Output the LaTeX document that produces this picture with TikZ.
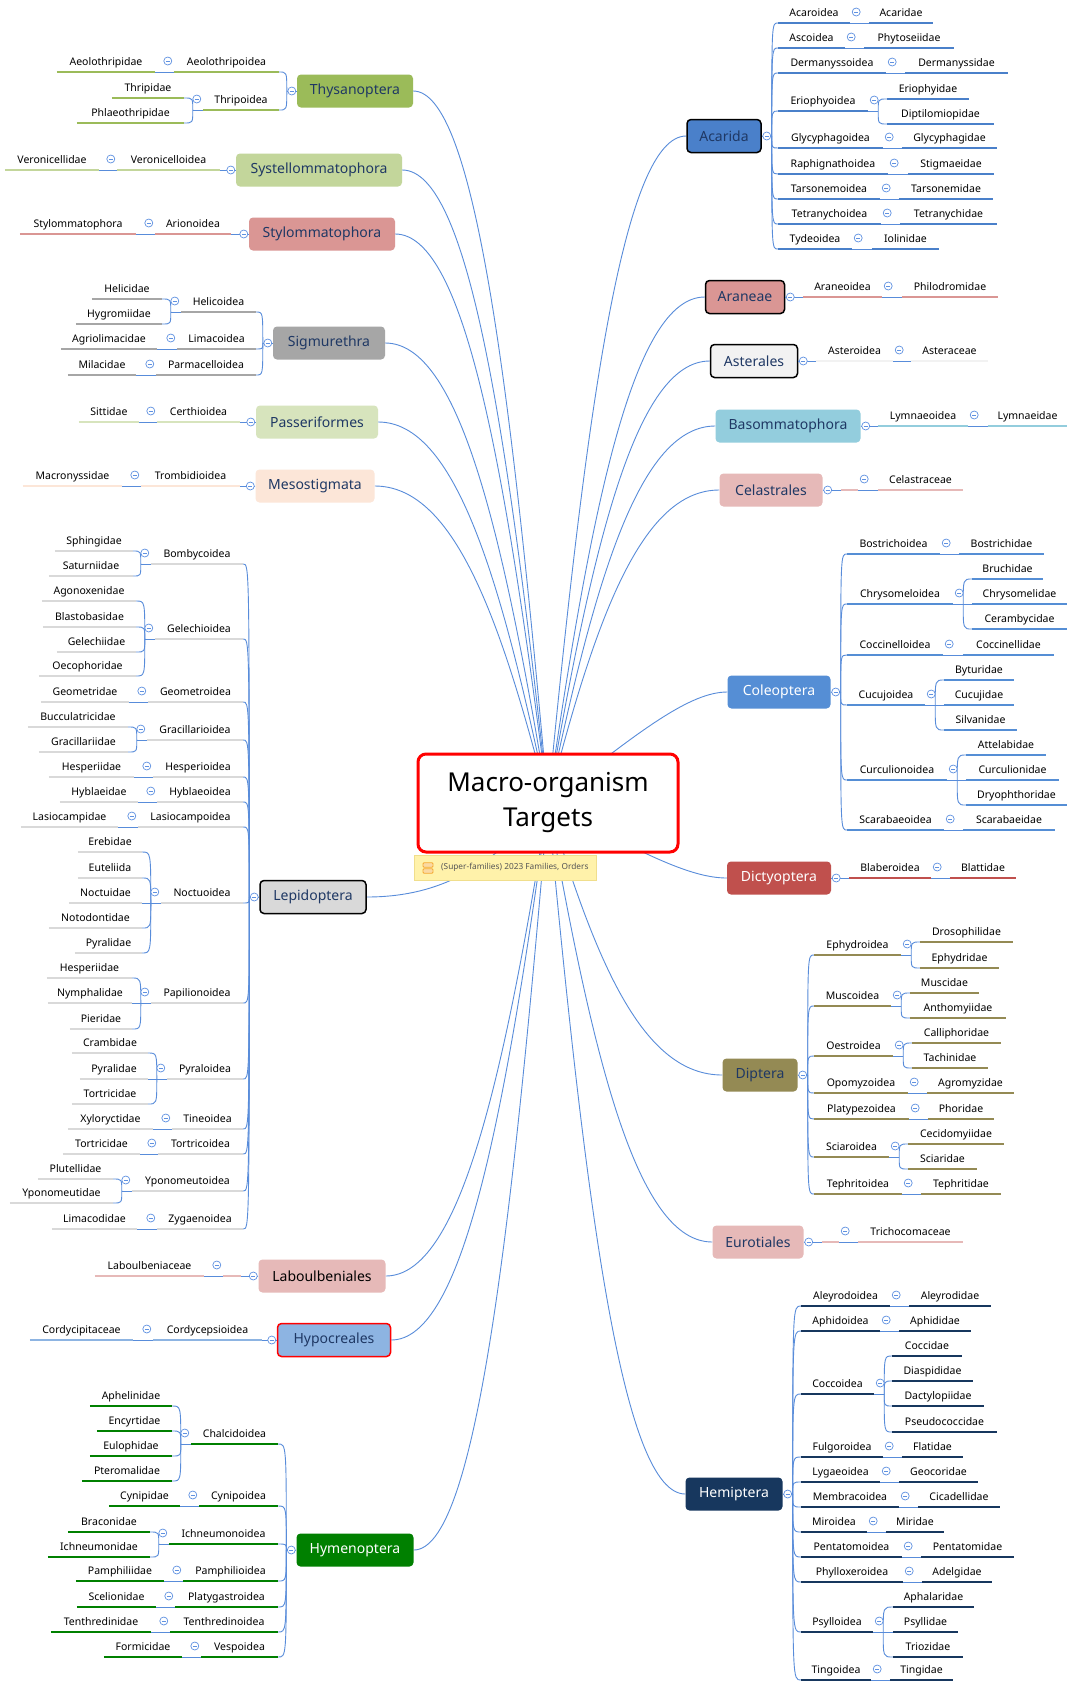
\documentclass[tikz,border=0pt]{standalone}
\usepackage{fontspec}
\setmainfont{Noto Sans}
\usetikzlibrary{calc}
\definecolor{cblue}{RGB}{88,140,218}
\definecolor{btnblue}{RGB}{95,145,225}
\definecolor{navy}{RGB}{31,56,100}
\definecolor{cThy}{RGB}{155,187,89}
\definecolor{cSys}{RGB}{195,214,155}
\definecolor{cSty}{RGB}{218,150,148}
\definecolor{cSig}{RGB}{166,166,166}
\definecolor{cPas}{RGB}{215,228,189}
\definecolor{cMes}{RGB}{252,230,216}
\definecolor{cLep}{RGB}{217,217,217}
\definecolor{cLab}{RGB}{230,185,184}
\definecolor{cHyp}{RGB}{141,180,226}
\definecolor{cHym}{RGB}{0,128,0}
\definecolor{cAca}{RGB}{74,128,202}
\definecolor{cAra}{RGB}{218,150,148}
\definecolor{cAst}{RGB}{242,242,242}
\definecolor{cBas}{RGB}{147,205,221}
\definecolor{cCel}{RGB}{230,185,184}
\definecolor{cCol}{RGB}{85,142,213}
\definecolor{cDic}{RGB}{192,80,77}
\definecolor{cDip}{RGB}{148,138,84}
\definecolor{cEur}{RGB}{230,185,184}
\definecolor{cHem}{RGB}{23,55,94}
\definecolor{noteY}{RGB}{255,242,170}
\definecolor{noteB}{RGB}{240,222,140}
\definecolor{iconO}{RGB}{245,170,50}
\pgfdeclarelayer{back}\pgfdeclarelayer{bg}\pgfsetlayers{back,bg,main}
\tikzset{
 lbl/.style={anchor=south, inner xsep=0pt, inner ysep=4pt, text height=8pt, text depth=2.5pt, font=\fontsize{10.5}{12}\selectfont, text=black},
 ulw/.style={line width=2.6pt},
 conn/.style={draw=cblue, line width=0.9pt},
 mainconn/.style={draw=cblue, line width=0.9pt},
 cb/.style={circle, draw=btnblue, fill=white, line width=0.7pt, minimum size=8pt, inner sep=0pt,
   path picture={\draw[btnblue,line width=0.7pt] ([xshift=-2pt]path picture bounding box.center) -- ([xshift=2pt]path picture bounding box.center);}},
 ord/.style={rounded corners=4pt, minimum height=33pt, inner sep=0pt, font=\fontsize{14}{16}\selectfont, text=navy},
 ordb/.style={ord, draw=black, line width=1.5pt},
 rootbox/.style={draw=red, line width=3pt, rounded corners=8pt, fill=white, minimum width=260pt, minimum height=98pt, align=center, font=\fontsize{26}{35}\selectfont},
 notebox/.style={fill=noteY, draw=noteB, line width=0.6pt, minimum width=182pt, minimum height=25pt, inner sep=0pt},
 noteicon/.style={draw=iconO, fill=iconO!45, line width=0.8pt, rounded corners=1pt, minimum width=10pt, minimum height=4.5pt, inner sep=0pt},
 notetext/.style={font=\fontsize{8.3}{9}\selectfont, text={rgb,255:red,85;green,85;blue,85}, inner sep=0pt},
}
\newcommand\UL[6]{\pgfmathsetmacro\ulwd{#3-#2}\node[lbl,minimum width=\ulwd pt] (#1) at ({(#2+#3)/2},#4) {#6};\draw[ulw,draw=#5] (#1.south west) -- (#1.south east);}
\newcommand\LK[2]{\draw[conn] (#1) -- (#2);}
\newcommand\BL[2]{\draw[conn] let \p1=(#1), \p2=(#2.south east) in (\p1) .. controls (\x1,\y2) and (\x1,\y2) .. (\p2);}
\newcommand\BR[2]{\draw[conn] let \p1=(#1), \p2=(#2.south west) in (\p1) .. controls (\x1,\y2) and (\x1,\y2) .. (\p2);}
\newcommand\CBL[1]{\node[cb] (#1c) at ([xshift=-6pt,yshift=11pt]#1.south west) {};}
\newcommand\CBR[1]{\node[cb] (#1c) at ([xshift=6pt,yshift=11pt]#1.south east) {};}
\newcommand\OneL[2]{\LK{#1.south west}{#2.south east}\CBL{#1}}
\newcommand\OneR[2]{\LK{#1.south east}{#2.south west}\CBR{#1}}
\newcommand\JL[1]{\coordinate (#1J) at ([xshift=-10pt]#1.south west);\LK{#1.south west}{#1J}}
\newcommand\JR[1]{\coordinate (#1J) at ([xshift=10pt]#1.south east);\LK{#1.south east}{#1J}}
\newcommand\OJL[1]{\coordinate (#1OJ) at ([xshift=-10pt]#1.west);\LK{#1.west}{#1OJ}}
\newcommand\OJR[1]{\coordinate (#1OJ) at ([xshift=10pt]#1.east);\LK{#1.east}{#1OJ}}
\newcommand\OCL[1]{\node[cb] (#1c) at ([xshift=-5pt]#1.west) {};}
\newcommand\OCR[1]{\node[cb] (#1c) at ([xshift=5pt]#1.east) {};}
\newcommand\ML[1]{\begin{pgfonlayer}{bg}\draw[mainconn] let \p1=(root.center), \p2=(#1) in (\p2) .. controls ({\x2+0.45*(\x1-\x2)},\y2) and ({\x1+0.28*(\x2-\x1)},{\y1+0.6*(\y2-\y1)}) .. (\p1);\end{pgfonlayer}}
\newcommand\MLh[1]{\begin{pgfonlayer}{bg}\draw[mainconn] let \p1=(root.center), \p2=(#1) in (\p2) .. controls ({\x2+0.207*(\x1-\x2)},\y2) and ({\x1+0.514*(\x2-\x1)},{\y1+0.658*(\y2-\y1)}) .. (\p1);\end{pgfonlayer}}
\begin{document}
\begin{tikzpicture}[x=1pt,y=-1pt]
\begin{pgfonlayer}{back}
\fill[white] (0,0) rectangle (1067,1682);
\end{pgfonlayer}
\useasboundingbox (0,0) rectangle (1067,1682);
% root and note
\node[rootbox] (root) at (548,803) {Macro-organism\\Targets};
\node[notebox] (note) at (505,867.5) {};
\node[noteicon] (ic1) at (428,865) {};
\node[noteicon] (ic2) at (428,871) {};
\node[notetext, anchor=west] (nt) at (441,867.5) {(Super-families) 2023 Families, Orders};
% ================= LEFT =================
% Thysanoptera
\node[ord, fill=cThy, minimum width=116pt] (thy) at (355,91) {Thysanoptera};
\UL{thyA}{174}{279}{72}{cThy}{Aeolothripoidea}
\UL{thyAa}{57}{155}{72}{cThy}{Aeolothripidae}
\UL{thyB}{203}{279}{110}{cThy}{Thripoidea}
\UL{thyBa}{112}{184}{98}{cThy}{Thripidae}
\UL{thyBb}{77}{184}{123}{cThy}{Phlaeothripidae}
\OJL{thy}\BL{thyOJ}{thyA}\BL{thyOJ}{thyB}
\OneL{thyA}{thyAa}
\JL{thyB}\BL{thyBJ}{thyBa}\BL{thyBJ}{thyBb}\CBL{thyB}
\OCL{thy}\ML{thy.east}
% Systellommatophora
\node[ord, fill=cSys, minimum width=166pt] (sys) at (319,170) {Systellommatophora};
\UL{sysA}{117}{220}{170}{cSys}{Veronicelloidea}
\UL{sysAa}{5}{99}{170}{cSys}{Veronicellidae}
\LK{sys.west}{sysA.south east}\OneL{sysA}{sysAa}
\OCL{sys}\ML{sys.east}
% Stylommatophora
\node[ord, fill=cSty, minimum width=146pt] (sty) at (322,234) {Stylommatophora};
\UL{styA}{155}{231}{234}{cSty}{Arionoidea}
\UL{styAa}{20}{136}{234}{cSty}{Stylommatophora}
\LK{sty.west}{styA.south east}\OneL{styA}{styAa}
\OCL{sty}\ML{sty.east}
% Sigmurethra
\node[ord, fill=cSig, minimum width=112pt] (sig) at (329,343) {Sigmurethra};
\UL{sigA}{181}{256}{312}{cSig}{Helicoidea}
\UL{sigAa}{92}{162}{299}{cSig}{Helicidae}
\UL{sigAb}{76}{162}{324}{cSig}{Hygromiidae}
\UL{sigB}{177}{256}{349}{cSig}{Limacoidea}
\UL{sigBa}{61}{157}{349}{cSig}{Agriolimacidae}
\UL{sigC}{156}{256}{375}{cSig}{Parmacelloidea}
\UL{sigCa}{68}{136}{375}{cSig}{Milacidae}
\OJL{sig}\BL{sigOJ}{sigA}\BL{sigOJ}{sigB}\BL{sigOJ}{sigC}
\JL{sigA}\BL{sigAJ}{sigAa}\BL{sigAJ}{sigAb}\CBL{sigA}
\OneL{sigB}{sigBa}\OneL{sigC}{sigCa}
\OCL{sig}\ML{sig.east}
% Passeriformes
\node[ord, fill=cPas, minimum width=122pt] (pas) at (317,422) {Passeriformes};
\UL{pasA}{157}{240}{422}{cPas}{Certhioidea}
\UL{pasAa}{79}{139}{422}{cPas}{Sittidae}
\LK{pas.west}{pasA.south east}\OneL{pasA}{pasAa}
\OCL{pas}\ML{pas.east}
% Mesostigmata
\node[ord, fill=cMes, minimum width=119pt] (mes) at (315,486) {Mesostigmata};
\UL{mesA}{141}{240}{486}{cMes}{Trombidioidea}
\UL{mesAa}{23}{122}{486}{cMes}{Macronyssidae}
\LK{mes.west}{mesA.south east}\OneL{mesA}{mesAa}
\OCL{mes}\ML{mes.east}
% Lepidoptera
\node[ordb, fill=cLep, minimum width=106pt] (lep) at (313,897) {Lepidoptera};
\UL{lepA}{151}{243}{564}{cLep}{Bombycoidea}
\UL{lepAa}{55}{133}{551}{cLep}{Sphingidae}
\UL{lepAb}{49}{133}{576}{cLep}{Saturniidae}
\UL{lepB}{155}{243}{639}{cLep}{Gelechioidea}
\UL{lepBa}{42}{136}{601}{cLep}{Agonoxenidae}
\UL{lepBb}{43}{136}{627}{cLep}{Blastobasidae}
\UL{lepBc}{57}{136}{652}{cLep}{Gelechiidae}
\UL{lepBd}{39}{136}{676}{cLep}{Oecophoridae}
\UL{lepC}{148}{243}{702}{cLep}{Geometroidea}
\UL{lepCa}{41}{129}{702}{cLep}{Geometridae}
\UL{lepD}{147}{243}{740}{cLep}{Gracillarioidea}
\UL{lepDa}{28}{128}{727}{cLep}{Bucculatricidae}
\UL{lepDb}{39}{128}{752}{cLep}{Gracillariidae}
\UL{lepE}{153}{243}{777}{cLep}{Hesperioidea}
\UL{lepEa}{49}{134}{777}{cLep}{Hesperiidae}
\UL{lepF}{157}{243}{802}{cLep}{Hyblaeoidea}
\UL{lepFa}{60}{138}{802}{cLep}{Hyblaeidae}
\UL{lepG}{138}{243}{827}{cLep}{Lasiocampoidea}
\UL{lepGa}{21}{118}{827}{cLep}{Lasiocampidae}
\UL{lepH}{161}{243}{903}{cLep}{Noctuoidea}
\UL{lepHa}{78}{142}{852}{cLep}{Erebidae}
\UL{lepHb}{78}{142}{878}{cLep}{Euteliida}
\UL{lepHc}{69}{142}{903}{cLep}{Noctuidae}
\UL{lepHd}{49}{142}{928}{cLep}{Notodontidae}
\UL{lepHe}{75}{142}{953}{cLep}{Pyralidae}
\UL{lepI}{151}{243}{1003}{cLep}{Papilionoidea}
\UL{lepIa}{47}{132}{978}{cLep}{Hesperiidae}
\UL{lepIb}{48}{132}{1003}{cLep}{Nymphalidae}
\UL{lepIc}{70}{132}{1029}{cLep}{Pieridae}
\UL{lepJ}{167}{243}{1079}{cLep}{Pyraloidea}
\UL{lepJa}{72}{148}{1053}{cLep}{Crambidae}
\UL{lepJb}{80}{148}{1079}{cLep}{Pyralidae}
\UL{lepJc}{72}{148}{1104}{cLep}{Tortricidae}
\UL{lepK}{172}{243}{1129}{cLep}{Tineoidea}
\UL{lepKa}{68}{153}{1129}{cLep}{Xyloryctidae}
\UL{lepL}{158}{243}{1154}{cLep}{Tortricoidea}
\UL{lepLa}{63}{140}{1154}{cLep}{Tortricidae}
\UL{lepM}{132}{243}{1191}{cLep}{Yponomeutoidea}
\UL{lepMa}{38}{113}{1179}{cLep}{Plutellidae}
\UL{lepMb}{10}{113}{1203}{cLep}{Yponomeutidae}
\UL{lepN}{157}{243}{1229}{cLep}{Zygaenoidea}
\UL{lepNa}{52}{137}{1229}{cLep}{Limacodidae}
\OJL{lep}
\foreach \s in {A,B,C,D,E,F,G,H,I,J,K,L,M,N}{\BL{lepOJ}{lep\s}}
\JL{lepA}\BL{lepAJ}{lepAa}\BL{lepAJ}{lepAb}\CBL{lepA}
\JL{lepB}\BL{lepBJ}{lepBa}\BL{lepBJ}{lepBb}\BL{lepBJ}{lepBc}\BL{lepBJ}{lepBd}\CBL{lepB}
\OneL{lepC}{lepCa}
\JL{lepD}\BL{lepDJ}{lepDa}\BL{lepDJ}{lepDb}\CBL{lepD}
\OneL{lepE}{lepEa}\OneL{lepF}{lepFa}\OneL{lepG}{lepGa}
\JL{lepH}\BL{lepHJ}{lepHa}\BL{lepHJ}{lepHb}\BL{lepHJ}{lepHc}\BL{lepHJ}{lepHd}\BL{lepHJ}{lepHe}\CBL{lepH}
\JL{lepI}\BL{lepIJ}{lepIa}\BL{lepIJ}{lepIb}\BL{lepIJ}{lepIc}\CBL{lepI}
\JL{lepJ}\BL{lepJJ}{lepJa}\BL{lepJJ}{lepJb}\BL{lepJJ}{lepJc}\CBL{lepJ}
\OneL{lepK}{lepKa}\OneL{lepL}{lepLa}
\JL{lepM}\BL{lepMJ}{lepMa}\BL{lepMJ}{lepMb}\CBL{lepM}
\OneL{lepN}{lepNa}
\OCL{lep}\ML{lep.east}
% Laboulbeniales
\node[ord, fill=cLab, minimum width=127pt, text=black] (lab) at (322,1276) {Laboulbeniales};
\UL{labA}{223}{241}{1276}{cLab}{}
\UL{labAa}{95}{204}{1276}{cLab}{Laboulbeniaceae}
\LK{lab.west}{labA.south east}\OneL{labA}{labAa}
\OCL{lab}\ML{lab.east}
% Hypocreales
\node[ord, fill=cHyp, draw=red, line width=1.5pt, minimum width=113pt] (hyp) at (334,1340) {Hypocreales};
\UL{hypA}{153}{262}{1340}{cHyp}{Cordycepsioidea}
\UL{hypAa}{30}{133}{1340}{cHyp}{Cordycipitaceae}
\LK{hyp.west}{hypA.south east}\OneL{hypA}{hypAa}
\OCL{hyp}\ML{hyp.east}
% Hymenoptera
\node[ord, fill=cHym, minimum width=117pt, text=white] (hym) at (355,1550) {Hymenoptera};
\UL{hymA}{191}{278}{1444}{cHym}{Chalcidoidea}
\UL{hymAa}{90}{172}{1406}{cHym}{Aphelinidae}
\UL{hymAb}{97}{172}{1431}{cHym}{Encyrtidae}
\UL{hymAc}{90}{172}{1456}{cHym}{Eulophidae}
\UL{hymAd}{82}{172}{1481}{cHym}{Pteromalidae}
\UL{hymB}{199}{278}{1506}{cHym}{Cynipoidea}
\UL{hymBa}{109}{180}{1506}{cHym}{Cynipidae}
\UL{hymC}{169}{278}{1544}{cHym}{Ichneumonoidea}
\UL{hymCa}{68}{150}{1532}{cHym}{Braconidae}
\UL{hymCb}{48}{150}{1557}{cHym}{Ichneumonidae}
\UL{hymD}{183}{278}{1581}{cHym}{Pamphilioidea}
\UL{hymDa}{76}{164}{1581}{cHym}{Pamphiliidae}
\UL{hymE}{175}{278}{1607}{cHym}{Platygastroidea}
\UL{hymEa}{77}{156}{1607}{cHym}{Scelionidae}
\UL{hymF}{170}{278}{1632}{cHym}{Tenthredinoidea}
\UL{hymFa}{51}{151}{1632}{cHym}{Tenthredinidae}
\UL{hymG}{201}{278}{1657}{cHym}{Vespoidea}
\UL{hymGa}{104}{182}{1657}{cHym}{Formicidae}
\OJL{hym}
\foreach \s in {A,B,C,D,E,F,G}{\BL{hymOJ}{hym\s}}
\JL{hymA}\BL{hymAJ}{hymAa}\BL{hymAJ}{hymAb}\BL{hymAJ}{hymAc}\BL{hymAJ}{hymAd}\CBL{hymA}
\OneL{hymB}{hymBa}
\JL{hymC}\BL{hymCJ}{hymCa}\BL{hymCJ}{hymCb}\CBL{hymC}
\OneL{hymD}{hymDa}\OneL{hymE}{hymEa}\OneL{hymF}{hymFa}\OneL{hymG}{hymGa}
\OCL{hym}\ML{hym.east}
% ================= RIGHT =================
% Acarida
\node[ordb, fill=cAca, minimum width=74pt] (aca) at (724,136) {Acarida};
\UL{acaA}{778}{850}{23}{cAca}{Acaroidea}
\UL{acaAa}{869}{933}{23}{cAca}{Acaridae}
\UL{acaB}{778}{845}{48}{cAca}{Ascoidea}
\UL{acaBa}{864}{954}{48}{cAca}{Phytoseiidae}
\UL{acaC}{778}{886}{73}{cAca}{Dermanyssoidea}
\UL{acaCa}{905}{1008}{73}{cAca}{Dermanyssidae}
\UL{acaD}{778}{868}{111}{cAca}{Eriophyoidea}
\UL{acaDa}{887}{969}{99}{cAca}{Eriophyidae}
\UL{acaDb}{887}{994}{124}{cAca}{Diptilomiopidae}
\UL{acaE}{778}{883}{148}{cAca}{Glycyphagoidea}
\UL{acaEa}{902}{997}{148}{cAca}{Glycyphagidae}
\UL{acaF}{778}{888}{174}{cAca}{Raphignathoidea}
\UL{acaFa}{908}{994}{174}{cAca}{Stigmaeidae}
\UL{acaG}{778}{880}{199}{cAca}{Tarsonemoidea}
\UL{acaGa}{899}{993}{199}{cAca}{Tarsonemidae}
\UL{acaH}{778}{881}{224}{cAca}{Tetranychoidea}
\UL{acaHa}{900}{997}{224}{cAca}{Tetranychidae}
\UL{acaI}{778}{852}{249}{cAca}{Tydeoidea}
\UL{acaIa}{872}{939}{249}{cAca}{Iolinidae}
\OJR{aca}
\foreach \s in {A,B,C,D,E,F,G,H,I}{\BR{acaOJ}{aca\s}}
\OneR{acaA}{acaAa}\OneR{acaB}{acaBa}\OneR{acaC}{acaCa}
\JR{acaD}\BR{acaDJ}{acaDa}\BR{acaDJ}{acaDb}\CBR{acaD}
\OneR{acaE}{acaEa}\OneR{acaF}{acaFa}\OneR{acaG}{acaGa}\OneR{acaH}{acaHa}\OneR{acaI}{acaIa}
\OCR{aca}\ML{aca.west}
% Araneae
\node[ordb, fill=cAra, minimum width=79pt] (ara) at (745,297) {Araneae};
\UL{araA}{803}{882}{297}{cAra}{Araneoidea}
\UL{araAa}{902}{998}{297}{cAra}{Philodromidae}
\LK{ara.east}{araA.south west}\OneR{araA}{araAa}
\OCR{ara}\ML{ara.west}
% Asterales
\node[ordb, fill=cAst, minimum width=87pt] (ast) at (754,361) {Asterales};
\UL{astA}{816}{893}{361}{cAst}{Asteroidea}
\UL{astAa}{911}{988}{361}{cAst}{Asteraceae}
\LK{ast.east}{astA.south west}\OneR{astA}{astAa}
\OCR{ast}\ML{ast.west}
% Basommatophora
\node[ord, fill=cBas, minimum width=145pt] (bas) at (788,426) {Basommatophora};
\UL{basA}{878}{968}{426}{cBas}{Lymnaeoidea}
\UL{basAa}{988}{1067}{426}{cBas}{Lymnaeidae}
\LK{bas.east}{basA.south west}\OneR{basA}{basAa}
\OCR{bas}\ML{bas.west}
% Celastrales
\node[ord, fill=cCel, minimum width=103pt] (cel) at (771,490) {Celastrales};
\UL{celA}{841}{858}{490}{cCel}{}
\UL{celAa}{878}{963}{490}{cCel}{Celastraceae}
\LK{cel.east}{celA.south west}\OneR{celA}{celAa}
\OCR{cel}\ML{cel.west}
% Coleoptera
\node[ord, fill=cCol, minimum width=103pt, text=white] (col) at (779,692) {Coleoptera};
\UL{colA}{847}{940}{554}{cCol}{Bostrichoidea}
\UL{colAa}{959}{1044}{554}{cCol}{Bostrichidae}
\UL{colB}{847}{953}{604}{cCol}{Chrysomeloidea}
\UL{colBa}{972}{1043}{579}{cCol}{Bruchidae}
\UL{colBb}{972}{1067}{604}{cCol}{Chrysomelidae}
\UL{colBc}{972}{1067}{629}{cCol}{Cerambycidae}
\UL{colC}{847}{943}{655}{cCol}{Coccinelloidea}
\UL{colCa}{963}{1054}{655}{cCol}{Coccinellidae}
\UL{colD}{847}{925}{705}{cCol}{Cucujoidea}
\UL{colDa}{944}{1014}{680}{cCol}{Byturidae}
\UL{colDb}{944}{1014}{705}{cCol}{Cucujidae}
\UL{colDc}{944}{1017}{730}{cCol}{Silvanidae}
\UL{colE}{847}{947}{780}{cCol}{Curculionoidea}
\UL{colEa}{966}{1046}{755}{cCol}{Attelabidae}
\UL{colEb}{966}{1059}{780}{cCol}{Curculionidae}
\UL{colEc}{966}{1067}{805}{cCol}{Dryophthoridae}
\UL{colF}{847}{944}{830}{cCol}{Scarabaeoidea}
\UL{colFa}{963}{1055}{830}{cCol}{Scarabaeidae}
\OJR{col}
\foreach \s in {A,B,C,D,E,F}{\BR{colOJ}{col\s}}
\OneR{colA}{colAa}
\JR{colB}\BR{colBJ}{colBa}\BR{colBJ}{colBb}\BR{colBJ}{colBc}\CBR{colB}
\OneR{colC}{colCa}
\JR{colD}\BR{colDJ}{colDa}\BR{colDJ}{colDb}\BR{colDJ}{colDc}\CBR{colD}
\JR{colE}\BR{colEJ}{colEa}\BR{colEJ}{colEb}\BR{colEJ}{colEc}\CBR{colE}
\OneR{colF}{colFa}
\OCR{col}\MLh{col.west}
% Dictyoptera
\node[ord, fill=cDic, minimum width=104pt, text=white] (dic) at (779,878) {Dictyoptera};
\UL{dicA}{849}{931}{878}{cDic}{Blaberoidea}
\UL{dicAa}{950}{1016}{878}{cDic}{Blattidae}
\LK{dic.east}{dicA.south west}\OneR{dicA}{dicAa}
\OCR{dic}\MLh{dic.west}
% Diptera
\node[ord, fill=cDip, minimum width=75pt] (dip) at (760,1075) {Diptera};
\UL{dipA}{814}{901}{955}{cDip}{Ephydroidea}
\UL{dipAa}{920}{1013}{942}{cDip}{Drosophilidae}
\UL{dipAb}{920}{999}{968}{cDip}{Ephydridae}
\UL{dipB}{814}{891}{1006}{cDip}{Muscoidea}
\UL{dipBa}{910}{979}{993}{cDip}{Muscidae}
\UL{dipBb}{910}{1006}{1018}{cDip}{Anthomyiidae}
\UL{dipC}{814}{893}{1056}{cDip}{Oestroidea}
\UL{dipCa}{912}{1001}{1043}{cDip}{Calliphoridae}
\UL{dipCb}{912}{988}{1068}{cDip}{Tachinidae}
\UL{dipD}{814}{908}{1093}{cDip}{Opomyzoidea}
\UL{dipDa}{927}{1014}{1093}{cDip}{Agromyzidae}
\UL{dipE}{814}{909}{1119}{cDip}{Platypezoidea}
\UL{dipEa}{928}{994}{1119}{cDip}{Phoridae}
\UL{dipF}{814}{889}{1157}{cDip}{Sciaroidea}
\UL{dipFa}{908}{1004}{1144}{cDip}{Cecidomyiidae}
\UL{dipFb}{908}{977}{1169}{cDip}{Sciaridae}
\UL{dipG}{814}{902}{1194}{cDip}{Tephritoidea}
\UL{dipGa}{921}{1001}{1194}{cDip}{Tephritidae}
\OJR{dip}
\foreach \s in {A,B,C,D,E,F,G}{\BR{dipOJ}{dip\s}}
\JR{dipA}\BR{dipAJ}{dipAa}\BR{dipAJ}{dipAb}\CBR{dipA}
\JR{dipB}\BR{dipBJ}{dipBa}\BR{dipBJ}{dipBb}\CBR{dipB}
\JR{dipC}\BR{dipCJ}{dipCa}\BR{dipCJ}{dipCb}\CBR{dipC}
\OneR{dipD}{dipDa}\OneR{dipE}{dipEa}
\JR{dipF}\BR{dipFJ}{dipFa}\BR{dipFJ}{dipFb}\CBR{dipF}
\OneR{dipG}{dipGa}
\OCR{dip}\ML{dip.west}
% Eurotiales
\node[ord, fill=cEur, minimum width=91pt] (eur) at (758,1242) {Eurotiales};
\UL{eurA}{822}{839}{1242}{cEur}{}
\UL{eurAa}{858}{963}{1242}{cEur}{Trichocomaceae}
\LK{eur.east}{eurA.south west}\OneR{eurA}{eurAa}
\OCR{eur}\ML{eur.west}
% Hemiptera
\node[ord, fill=cHem, minimum width=97pt, text=white] (hem) at (734,1494) {Hemiptera};
\UL{hemA}{801}{890}{1306}{cHem}{Aleyrodoidea}
\UL{hemAa}{909}{991}{1306}{cHem}{Aleyrodidae}
\UL{hemB}{801}{880}{1331}{cHem}{Aphidoidea}
\UL{hemBa}{899}{971}{1331}{cHem}{Aphididae}
\UL{hemC}{801}{874}{1394}{cHem}{Coccoidea}
\UL{hemCa}{892}{962}{1356}{cHem}{Coccidae}
\UL{hemCb}{892}{973}{1381}{cHem}{Diaspididae}
\UL{hemCc}{892}{984}{1406}{cHem}{Dactylopiidae}
\UL{hemCd}{892}{997}{1432}{cHem}{Pseudococcidae}
\UL{hemD}{801}{883}{1457}{cHem}{Fulgoroidea}
\UL{hemDa}{902}{963}{1457}{cHem}{Flatidae}
\UL{hemE}{801}{880}{1482}{cHem}{Lygaeoidea}
\UL{hemEa}{899}{978}{1482}{cHem}{Geocoridae}
\UL{hemF}{801}{899}{1507}{cHem}{Membracoidea}
\UL{hemFa}{918}{1000}{1507}{cHem}{Cicadellidae}
\UL{hemG}{801}{867}{1532}{cHem}{Miroidea}
\UL{hemGa}{886}{944}{1532}{cHem}{Miridae}
\UL{hemH}{801}{902}{1557}{cHem}{Pentatomoidea}
\UL{hemHa}{921}{1014}{1557}{cHem}{Pentatomidae}
\UL{hemI}{801}{903}{1582}{cHem}{Phylloxeroidea}
\UL{hemIa}{922}{992}{1582}{cHem}{Adelgidae}
\UL{hemJ}{801}{873}{1632}{cHem}{Psylloidea}
\UL{hemJa}{893}{974}{1607}{cHem}{Aphalaridae}
\UL{hemJb}{893}{958}{1632}{cHem}{Psyllidae}
\UL{hemJc}{893}{963}{1657}{cHem}{Triozidae}
\UL{hemK}{801}{871}{1680}{cHem}{Tingoidea}
\UL{hemKa}{890}{953}{1680}{cHem}{Tingidae}
\OJR{hem}
\foreach \s in {A,B,C,D,E,F,G,H,I,J,K}{\BR{hemOJ}{hem\s}}
\OneR{hemA}{hemAa}\OneR{hemB}{hemBa}
\JR{hemC}\BR{hemCJ}{hemCa}\BR{hemCJ}{hemCb}\BR{hemCJ}{hemCc}\BR{hemCJ}{hemCd}\CBR{hemC}
\OneR{hemD}{hemDa}\OneR{hemE}{hemEa}\OneR{hemF}{hemFa}\OneR{hemG}{hemGa}\OneR{hemH}{hemHa}\OneR{hemI}{hemIa}
\JR{hemJ}\BR{hemJJ}{hemJa}\BR{hemJJ}{hemJb}\BR{hemJJ}{hemJc}\CBR{hemJ}
\OneR{hemK}{hemKa}
\OCR{hem}\ML{hem.west}
\end{tikzpicture}
\end{document}
